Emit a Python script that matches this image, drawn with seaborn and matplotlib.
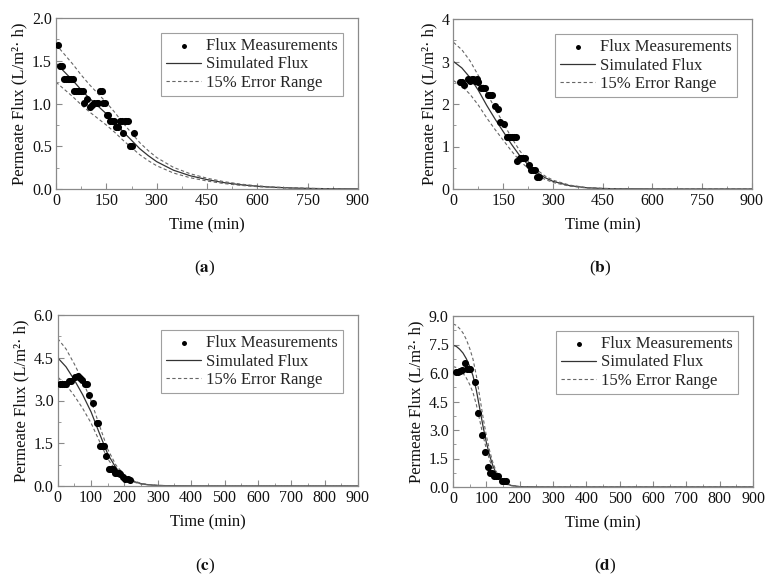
import numpy as np
import matplotlib
matplotlib.use("Agg")
import matplotlib.pyplot as plt
from matplotlib.ticker import MultipleLocator
import seaborn as sns

# ---------------- data ----------------
ERROR = 0.15  # "15% Error Range"

# panel (a)
a_t = [5, 12, 18, 25, 30, 35, 40, 45, 50, 55, 60, 65, 70, 75, 80, 83, 93, 101, 106, 114,
       121, 126, 131, 136, 141, 146, 151, 156, 162, 168, 174, 180, 185, 190, 196, 200,
       205, 210, 215, 220, 225, 232]
a_v = [1.69, 1.44, 1.44, 1.29, 1.29, 1.29, 1.29, 1.29, 1.29, 1.15, 1.15, 1.15, 1.15, 1.15,
       1.15, 1.01, 1.05, 0.96, 0.98, 1.01, 1.01, 1.01, 1.15, 1.15, 1.01, 1.01, 0.86, 0.86,
       0.79, 0.79, 0.79, 0.72, 0.72, 0.79, 0.79, 0.65, 0.79, 0.79, 0.79, 0.50, 0.50, 0.65]
a_sim_t = [0, 25, 50, 75, 100, 125, 150, 175, 200, 225, 250, 275, 300, 350, 400, 450, 500,
           550, 600, 650, 700, 750, 800, 850, 900]
a_sim = [1.47, 1.37, 1.27, 1.16, 1.06, 0.97, 0.88, 0.78, 0.67, 0.57, 0.47, 0.39, 0.32, 0.22,
         0.155, 0.11, 0.075, 0.05, 0.032, 0.02, 0.012, 0.007, 0.004, 0.002, 0.001]

# panel (b)
b_t = [20, 26, 32, 45, 50, 55, 60, 65, 70, 75, 83, 89, 95, 103, 109, 115, 125, 135, 140,
       152, 160, 165, 170, 176, 182, 188, 191, 199, 205, 211, 217, 227, 233, 239, 245, 252, 258]
b_v = [2.52, 2.52, 2.45, 2.58, 2.55, 2.58, 2.58, 2.55, 2.58, 2.52, 2.38, 2.38, 2.38, 2.22,
       2.22, 2.22, 1.95, 1.88, 1.58, 1.52, 1.22, 1.22, 1.22, 1.22, 1.22, 1.22, 0.65, 0.72,
       0.72, 0.72, 0.72, 0.57, 0.44, 0.44, 0.44, 0.29, 0.29]
b_sim_t = [0, 25, 50, 75, 100, 125, 150, 175, 200, 225, 250, 275, 300, 350, 400, 450, 500,
           600, 700, 900]
b_sim = [3.0, 2.85, 2.62, 2.32, 1.97, 1.65, 1.35, 1.05, 0.78, 0.57, 0.40, 0.27, 0.18, 0.08,
         0.03, 0.012, 0.005, 0.001, 0.0, 0.0]

# panel (c)
c_t = [8, 14, 20, 26, 33, 40, 52, 60, 67, 72, 82, 88, 95, 105, 117, 120, 128, 134, 140,
       145, 153, 160, 166, 172, 178, 184, 187, 197, 203, 210, 216]
c_v = [3.58, 3.58, 3.58, 3.58, 3.70, 3.70, 3.82, 3.86, 3.80, 3.72, 3.58, 3.58, 3.20, 2.92,
       2.20, 2.22, 1.40, 1.40, 1.40, 1.05, 0.60, 0.60, 0.60, 0.47, 0.47, 0.45, 0.42, 0.32,
       0.23, 0.23, 0.21]
c_sim_t = [0, 25, 50, 75, 100, 125, 150, 175, 200, 225, 250, 275, 300, 350, 400, 500, 900]
c_sim = [4.5, 4.18, 3.72, 3.2, 2.6, 1.85, 1.12, 0.63, 0.34, 0.17, 0.08, 0.04, 0.02, 0.005,
         0.001, 0.0, 0.0]

# panel (d)
d_t = [9, 15, 21, 26, 36, 42, 47, 52, 66, 76, 86, 96, 106, 112, 118, 124, 130, 136, 146,
       152, 158]
d_v = [6.05, 6.07, 6.1, 6.15, 6.54, 6.22, 6.22, 6.22, 5.55, 3.88, 2.75, 1.85, 1.05, 0.75,
       0.72, 0.6, 0.6, 0.6, 0.33, 0.33, 0.33]
d_sim_t = [0, 10, 20, 30, 40, 50, 60, 70, 80, 90, 100, 110, 120, 130, 140, 150, 160, 175,
           200, 250, 300, 900]
d_sim = [7.46, 7.4, 7.25, 7.05, 6.75, 6.35, 5.85, 5.1, 4.15, 3.2, 2.35, 1.65, 1.1, 0.7,
         0.45, 0.28, 0.17, 0.08, 0.02, 0.002, 0.0, 0.0]

# ---------------- style ----------------
sns.set_theme(style="ticks")
plt.rcParams['font.family'] = ['Liberation Serif', 'DejaVu Serif']
plt.rcParams['mathtext.fontset'] = 'stix'

fig = plt.figure(figsize=(7.67, 5.83), dpi=100)
W, H = 767, 583

def add_ax(l, r, t, b):
    return fig.add_axes([l / W, 1 - b / H, (r - l) / W, (b - t) / H])

SPINE = '#8a8a8a'

def panel(ax, t, v, st, sv, ymax, ystep, xstep, yfmt, letter, lx, ly):
    sns.scatterplot(x=t, y=v, ax=ax, color='black', s=26, linewidth=0,
                    label='Flux Measurements', zorder=3)
    sv = np.asarray(sv, dtype=float)
    sns.lineplot(x=st, y=sv, ax=ax, color='#333333', linewidth=0.9,
                 label='Simulated Flux')
    sns.lineplot(x=st, y=sv * (1 + ERROR), ax=ax, color='#666666', linewidth=0.8,
                 linestyle=(0, (3, 2.2)), label='15% Error Range')
    sns.lineplot(x=st, y=sv * (1 - ERROR), ax=ax, color='#666666', linewidth=0.8,
                 linestyle=(0, (3, 2.2)), label='_nolegend_')
    ax.set_xlim(0, 900)
    ax.set_ylim(0, ymax)
    ax.xaxis.set_major_locator(MultipleLocator(xstep))
    ax.xaxis.set_minor_locator(MultipleLocator(xstep / 2))
    ax.yaxis.set_major_locator(MultipleLocator(ystep))
    ax.yaxis.set_minor_locator(MultipleLocator(ystep / 2))
    ax.yaxis.set_major_formatter(plt.FuncFormatter(lambda y, p: yfmt.format(y)))
    ax.tick_params(which='both', direction='in', color=SPINE, labelsize=11.5,
                   labelcolor='#111111', top=False, right=False, pad=3)
    ax.tick_params(which='major', length=4, width=0.8)
    ax.tick_params(which='minor', length=2, width=0.6)
    for s in ax.spines.values():
        s.set_color(SPINE)
        s.set_linewidth(0.9)
    ax.set_xlabel('Time (min)', fontsize=12, labelpad=6, color='#111111')
    ax.set_ylabel('Permeate Flux (L/m²· h)', fontsize=12, labelpad=3, color='#111111')
    leg = ax.legend(loc='upper right', fontsize=12, frameon=True, fancybox=False,
                    edgecolor='#a0a0a0', framealpha=1, borderaxespad=0.9,
                    handlelength=2.1, handletextpad=0.3, labelspacing=0.15,
                    borderpad=0.3, markerscale=0.7)
    leg.get_frame().set_linewidth(0.8)
    fig.text(lx / W, 1 - ly / H, r'($\mathbf{' + letter + r'}$)', fontsize=12.5,
             ha='center', va='center', color='#111111')

ax_a = add_ax(56, 358, 18, 189)
panel(ax_a, a_t, a_v, a_sim_t, a_sim, 2.0, 0.5, 150, '{:.1f}', 'a', 205, 268)

ax_b = add_ax(453.5, 752, 19, 189)
panel(ax_b, b_t, b_v, b_sim_t, b_sim, 4, 1, 150, '{:.0f}', 'b', 600, 268)

ax_c = add_ax(57.7, 358, 315, 486)
panel(ax_c, c_t, c_v, c_sim_t, c_sim, 6.0, 1.5, 100, '{:.1f}', 'c', 205, 566)

ax_d = add_ax(453, 753, 316, 487)
panel(ax_d, d_t, d_v, d_sim_t, d_sim, 9.0, 1.5, 100, '{:.1f}', 'd', 605, 566)

fig.savefig('out.png', dpi=100)
